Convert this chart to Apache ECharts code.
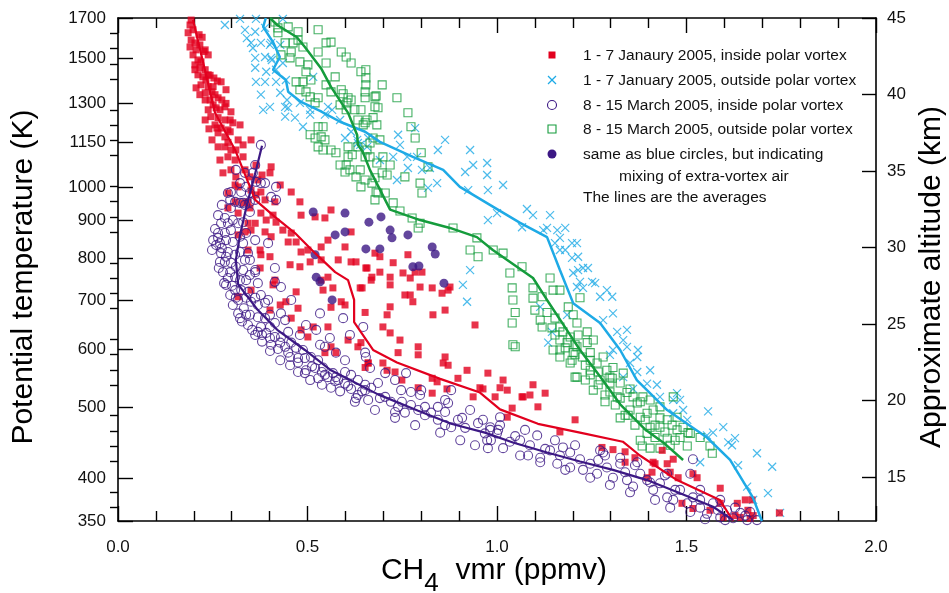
<!DOCTYPE html>
<html>
<head>
<meta charset="utf-8">
<script src="https://cdn.jsdelivr.net/npm/echarts@6/dist/echarts.min.js"></script>
<style>
html,body{margin:0;padding:0;background:#fff;}
#chart{width:949px;height:593px;}
</style>
</head>
<body>
<div id="chart"></div>
<script>
// ---------- data (CH4 vmr in ppmv, potential temperature in K) ----------
const thetaTicks = [350,400,500,600,700,800,900,1000,1150,1300,1500,1700];
const altTicks = [15,20,25,30,35,40,45];
const altMinorTicks = [13,14,16,17,18,19,21,22,23,24,26,27,28,29,31,32,33,34,36,37,38,39,41,42,43,44];
const xTickLabels = [0,0.5,1,1.5,2];

const janInside = [
[0.193,1689],[0.190,1663],[0.198,1638],[0.185,1623],[0.193,1586],[0.203,1572],[0.190,1552],[0.206,1538],[0.198,1514],[0.211,1490],
[0.219,1481],[0.203,1467],[0.216,1454],[0.230,1445],[0.211,1422],[0.224,1413],[0.232,1399],[0.219,1378],[0.238,1370],[0.251,1370],
[0.230,1344],[0.256,1336],[0.243,1314],[0.264,1323],[0.272,1391],[0.230,1314],[0.251,1294],[0.259,1282],[0.238,1274],[0.269,1274],
[0.282,1286],[0.245,1247],[0.264,1243],[0.282,1234],[0.256,1215],[0.272,1203],[0.298,1266],[0.303,1223],[0.264,1185],[0.282,1170],
[0.296,1189],[0.264,1134],[0.282,1134],[0.298,1123],[0.330,1141],[0.351,1159],[0.290,1099],[0.309,1088],[0.330,1099],[0.277,1045],
[0.298,1055],[0.311,1032],[0.348,1032],[0.369,1022],[0.404,1065],[0.401,1045],[0.317,1000],[0.351,990],[0.377,984],[0.428,1006],
[0.457,984],[0.290,981],[0.309,954],[0.343,954],[0.388,960],[0.414,954],[0.480,954],[0.364,975],[0.290,936],[0.330,951],
[0.317,921],[0.348,936],[0.362,892],[0.377,921],[0.391,901],[0.409,915],[0.417,895],[0.343,892],[0.317,860],[0.335,868],
[0.351,873],[0.388,868],[0.404,855],[0.435,873],[0.457,865],[0.449,841],[0.470,841],[0.483,915],[0.520,910],[0.546,907],
[0.562,930],[0.483,815],[0.501,820],[0.536,828],[0.554,846],[0.599,828],[0.615,868],[0.536,795],[0.581,795],[0.615,790],
[0.628,790],[0.654,775],[0.343,820],[0.375,820],[0.377,808],[0.401,803],[0.375,775],[0.414,746],[0.409,735],[0.454,783],
[0.480,778],[0.507,790],[0.554,753],[0.536,746],[0.470,719],[0.428,690],[0.443,697],[0.475,683],[0.541,723],[0.567,728],
[0.589,697],[0.599,690],[0.562,685],[0.639,728],[0.652,674],[0.668,746],[0.457,662],[0.401,679],[0.483,638],[0.501,624],
[0.515,644],[0.554,644],[0.562,605],[0.546,594],[0.575,594],[0.607,618],[0.633,605],[0.641,613],[0.652,567],[0.660,575],
[0.351,723],[0.317,708],[0.678,812],[0.691,803],[0.726,788],[0.765,808],[0.784,765],[0.802,765],[0.657,775],[0.670,753],
[0.691,765],[0.718,753],[0.718,735],[0.752,763],[0.771,751],[0.797,730],[0.829,728],[0.855,716],[0.871,723],[0.876,730],
[0.757,712],[0.771,712],[0.778,697],[0.644,728],[0.710,669],[0.718,686],[0.831,669],[0.863,679],[0.699,644],[0.718,632],
[0.942,648],[0.744,618],[0.792,605],[0.792,590],[0.739,594],[0.863,586],[0.660,575],[0.699,575],[0.710,562],[0.731,559],
[0.749,545],[0.858,575],[0.871,571],[0.829,548],[0.842,542],[0.897,548],[0.921,562],[0.955,532],[0.976,557],[1.008,532],
[1.016,545],[1.095,537],[0.792,532],[0.829,523],[0.868,530],[1.066,517],[0.995,517],[0.937,517],[1.027,528],[0.963,530],
[1.040,499],[1.027,485],[1.069,517],[1.087,520],[1.108,501],[1.127,523],[1.166,463],[1.206,481],[1.277,441],[1.306,438],
[1.338,435],[1.364,427],[1.338,421],[1.412,421],[1.417,419],[1.436,437],[1.449,419],[1.465,425],[1.457,408],[1.478,401],
[1.517,406],[1.528,401],[1.589,388],[1.488,370],[1.517,364],[1.655,374],[1.673,374],[1.662,362],[1.676,356],[1.668,353],
[1.634,370],[1.628,356],[1.642,354],[1.597,354],[1.562,362],[1.589,370],[1.396,401],[1.409,408],[1.745,359],
[0.216,1562],[0.238,1514],[0.206,1365],[0.248,1348],[0.274,1314],[0.230,1234],[0.296,1234],[0.248,1159],[0.317,1159],[0.269,1088],
[0.335,1055],[0.309,1006],[0.380,1038],[0.222,1600],[0.227,1530],[0.243,1420],[0.262,1395],[0.285,1300],[0.240,1200],[0.290,1150],
[0.214,1613],[0.230,1538],[0.203,1445],[0.238,1422],[0.253,1408],[0.216,1336],[0.285,1357],[0.290,1196],[0.261,1203],[0.322,1215],
[0.311,1123],[0.364,1071]
];

const janOutside = [
[0.282,1663],[0.322,1695],[0.364,1695],[0.435,1695],[0.335,1638],[0.362,1628],[0.388,1648],[0.351,1572],[0.377,1572],[0.404,1572],
[0.362,1500],[0.388,1504],[0.404,1500],[0.362,1454],[0.391,1436],[0.417,1445],[0.364,1391],[0.388,1391],[0.417,1391],[0.443,1399],
[0.377,1336],[0.401,1286],[0.383,1274],[0.441,1286],[0.441,1247],[0.467,1243],[0.488,1208],[0.507,1255],[0.546,1255],[0.554,1286],
[0.599,1166],[0.633,1148],[0.615,1189],[0.340,1596],[0.356,1547],[0.401,1562],[0.428,1562],[0.406,1490],[0.435,1476],[0.449,1282],
[0.446,1314],[0.428,1344],[0.480,1302],[0.507,1274],[0.515,1413],[0.565,1274],[0.586,1234],[0.631,1159],[0.639,1141],[0.660,1166],
[0.739,1178],[0.744,1141],[0.726,1099],[0.763,1099],[0.789,1099],[0.784,1203],[0.863,1159],[0.844,1123],[0.929,1123],[0.937,1071],
[0.974,1078],[0.916,1048],[0.974,1038],[0.823,1061],[0.802,1055],[0.765,1061],[0.691,1088],[0.657,1134],[0.736,1022],[0.842,1012],
[0.818,997],[0.924,990],[0.976,990],[1.016,1006],[1.000,921],[0.976,901],[1.079,933],[1.095,915],[1.066,881],[1.140,915],
[1.132,879],[1.159,873],[1.180,879],[1.122,873],[1.166,852],[1.153,838],[1.166,820],[1.180,820],[1.198,838],[1.211,838],
[1.214,803],[1.198,800],[1.201,763],[1.214,770],[1.227,775],[1.240,775],[1.219,742],[1.251,742],[1.259,739],[1.211,730],
[1.227,728],[1.272,708],[1.290,723],[1.304,708],[1.306,672],[1.280,658],[1.317,634],[1.343,638],[1.333,618],[1.306,599],
[1.343,605],[1.370,586],[0.929,770],[0.910,735],[0.921,697],[1.135,613],[1.145,634],[1.114,686],[1.185,669],[1.372,599],
[1.298,590],[1.351,575],[1.370,559],[1.404,562],[1.333,550],[1.359,530],[1.396,539],[1.422,537],[1.430,517],[1.475,523],
[1.483,512],[1.465,512],[1.491,496],[1.465,491],[1.502,481],[1.557,494],[1.570,462],[1.554,458],[1.597,470],[1.610,448],
[1.628,454],[1.620,444],[1.686,433],[1.536,421],[1.636,417],[1.726,415],[1.660,390],[1.715,382],[1.676,374],[1.747,359]
];

const marInside = [
[0.377,1141],[0.362,1071],[0.311,1055],[0.335,1045],[0.356,1045],[0.364,1016],[0.377,1012],[0.388,1012],[0.322,1012],[0.338,1000],
[0.417,1000],[0.298,984],[0.325,984],[0.348,981],[0.404,969],[0.417,960],[0.296,960],[0.309,954],[0.330,951],[0.348,954],
[0.362,960],[0.290,981],[0.322,951],[0.335,945],[0.298,936],[0.348,924],[0.282,907],[0.272,892],[0.290,892],[0.303,901],
[0.317,892],[0.330,895],[0.264,865],[0.282,865],[0.298,873],[0.269,838],[0.259,833],[0.285,846],[0.303,841],[0.322,855],
[0.330,838],[0.338,865],[0.362,846],[0.272,812],[0.290,815],[0.309,808],[0.322,815],[0.343,812],[0.348,795],[0.282,790],
[0.298,788],[0.311,778],[0.330,770],[0.362,770],[0.290,751],[0.309,753],[0.322,746],[0.338,746],[0.369,739],[0.309,723],
[0.325,723],[0.343,719],[0.311,706],[0.338,706],[0.362,706],[0.377,712],[0.351,697],[0.369,690],[0.388,695],[0.317,672],
[0.338,669],[0.369,664],[0.388,662],[0.401,669],[0.430,672],[0.377,644],[0.401,644],[0.414,652],[0.369,634],[0.391,632],
[0.414,624],[0.430,624],[0.449,634],[0.404,609],[0.428,613],[0.441,605],[0.457,613],[0.470,603],[0.488,599],[0.454,586],
[0.475,584],[0.493,584],[0.509,586],[0.528,580],[0.475,559],[0.496,562],[0.520,566],[0.541,567],[0.528,548],[0.554,550],
[0.575,550],[0.599,559],[0.615,554],[0.633,545],[0.652,537],[0.562,532],[0.396,838],[0.414,775],[0.430,730],[0.457,701],
[0.533,672],[0.496,648],[0.523,638],[0.559,622],[0.546,605],[0.575,594],[0.594,662],[0.612,628],[0.647,644],[0.652,594],
[0.654,586],[0.414,742],[0.362,765],[0.493,557],[0.546,554],[0.567,557],[0.581,545],[0.599,539],[0.615,530],[0.633,520],
[0.652,528],[0.668,532],[0.628,515],[0.660,512],[0.705,517],[0.720,509],[0.739,501],[0.731,493],[0.757,492],[0.773,504],
[0.792,496],[0.810,501],[0.826,492],[0.844,501],[0.863,493],[0.844,481],[0.863,473],[0.879,470],[0.897,481],[0.916,469],
[0.871,507],[0.950,476],[0.968,461],[0.976,440],[0.984,451],[1.003,466],[0.747,528],[0.773,525],[0.800,528],[0.879,528],
[0.686,540],[0.705,557],[0.760,557],[0.963,481],[0.982,470],[1.000,461],[1.016,440],[0.974,451],[1.008,485],[1.034,449],
[1.061,451],[1.087,444],[1.106,458],[1.082,430],[1.114,427],[1.140,437],[1.166,430],[1.174,441],[1.159,419],[1.193,414],
[1.219,425],[1.227,411],[1.246,419],[1.264,406],[1.272,437],[1.290,414],[1.306,401],[1.325,419],[1.343,398],[1.359,390],
[1.378,406],[1.396,398],[1.412,386],[1.430,394],[1.449,377],[1.465,374],[1.483,386],[1.502,370],[1.517,377],[1.536,365],
[1.554,358],[1.570,370],[1.589,354],[1.607,362],[1.623,353],[1.642,359],[1.660,351],[1.686,351],[1.517,425],[1.510,406],
[1.449,406],[1.370,421],[1.325,427],[1.280,434],
[0.251,846],[0.248,820],[0.256,876],[0.264,915],[0.274,945],[0.269,790],[0.277,765],[0.285,735],[0.296,712],[0.303,690],
[0.322,662],[0.343,648],[0.362,628],[0.380,615],[0.401,597],[0.428,580],[0.454,571],[0.507,545],[0.538,537],[0.586,526],
[0.625,509],[0.678,496],[0.731,484],[0.784,473],[0.850,462],[0.903,451],[0.942,444],[1.061,430],[1.114,421],[1.180,411],
[1.246,401],[1.298,392],[1.351,383],[1.417,374],[1.457,365],[1.510,360],[1.549,352],[1.602,351],
[0.335,795],[0.348,758],[0.396,701],[0.441,658],[0.480,628],[0.533,609],[0.599,580],[0.665,566],[0.731,545],[0.797,520],
[0.863,512],[0.929,496],[1.008,473],[1.074,466],[1.153,451],[1.206,444],[1.285,430],[1.364,417],[1.443,404],[1.536,386],
[1.589,374],[1.628,365],[1.668,360],
[0.264,852],[0.274,825],[0.285,803],[0.266,775],[0.296,765],[0.280,739],[0.301,733],[0.317,701],[0.332,683],[0.348,669],
[0.327,655],[0.354,638],[0.380,628],[0.401,622],[0.422,601],[0.449,594],[0.475,576],[0.512,569],[0.538,559],[0.573,543],
[0.607,535],[0.644,526],[0.691,515],[0.749,509],[0.810,488],[0.908,484],[0.982,466],[1.048,457],[1.127,439],[1.193,434],
[1.267,424],[1.338,408],[1.404,395],[1.470,386],[1.536,374],[1.583,362],[1.655,356]
];

const marOutside = [
[0.414,1679],[0.422,1648],[0.449,1653],[0.475,1628],[0.528,1638],[0.422,1623],[0.441,1572],[0.462,1572],[0.475,1586],[0.488,1552],
[0.430,1514],[0.457,1528],[0.454,1500],[0.480,1481],[0.501,1467],[0.528,1528],[0.549,1572],[0.562,1576],[0.589,1528],[0.602,1504],
[0.615,1476],[0.641,1436],[0.654,1445],[0.549,1476],[0.496,1436],[0.470,1391],[0.488,1391],[0.509,1399],[0.480,1357],[0.496,1348],
[0.507,1327],[0.528,1323],[0.520,1302],[0.573,1413],[0.549,1378],[0.562,1348],[0.589,1357],[0.607,1323],[0.615,1314],[0.586,1294],
[0.602,1274],[0.625,1274],[0.641,1274],[0.633,1234],[0.652,1223],[0.507,1178],[0.520,1166],[0.536,1170],[0.546,1159],[0.528,1208],
[0.541,1208],[0.528,1134],[0.562,1123],[0.575,1113],[0.586,1071],[0.602,1071],[0.599,1048],[0.607,1099],[0.607,1134],[0.633,1134],
[0.639,1055],[0.652,1022],[0.628,1032],[0.641,1000],[0.678,1029],[0.681,984],[0.678,960],[0.652,1099],[0.652,1348],[0.654,1408],
[0.654,1378],[0.652,1323],[0.678,1327],[0.678,1286],[0.594,1340],[0.604,1302],[0.647,1215],[0.657,1234],[0.673,1243],[0.683,1215],
[0.697,1378],[0.681,1331],[0.686,1282],[0.736,1323],[0.765,1262],[0.773,1208],[0.784,1166],[0.800,1113],[0.818,1065],[0.673,1166],
[0.665,1148],[0.691,1159],[0.699,1099],[0.683,1078],[0.718,1071],[0.697,1045],[0.710,1038],[0.757,1032],[0.657,1123],[0.612,1055],
[0.541,1123],[0.618,1106],[0.665,1099],[0.670,1012],[0.686,981],[0.705,981],[0.726,951],[0.744,927],[0.797,1012],[0.802,981],
[0.776,907],[0.797,892],[0.792,879],[0.884,879],[0.947,852],[0.929,820],[0.950,803],[0.990,820],[1.016,812],[1.066,778],
[1.034,763],[1.040,728],[1.042,701],[1.048,674],[1.040,652],[1.048,605],[1.095,728],[1.095,705],[1.100,679],[1.119,708],
[1.140,751],[1.148,723],[1.166,723],[1.114,658],[1.132,674],[1.153,662],[1.119,644],[1.145,642],[1.166,644],[1.188,686],
[1.219,706],[1.201,669],[1.211,652],[1.153,628],[1.174,634],[1.148,599],[1.166,586],[1.193,624],[1.214,628],[1.238,634],
[1.185,613],[1.211,605],[1.238,613],[1.254,618],[1.198,580],[1.225,586],[1.246,594],[1.264,575],[1.206,550],[1.246,562],
[1.272,545],[1.298,550],[1.306,567],[1.325,540],[1.343,524],[1.359,517],[1.254,528],[1.042,609],[1.166,599],[1.201,594],
[1.193,575],[1.211,550],[1.280,586],[1.290,562],[1.298,540],[1.317,517],[1.333,557],[1.351,496],[1.370,507],[1.385,517],
[1.346,488],[1.378,485],[1.396,491],[1.412,496],[1.430,501],[1.404,470],[1.430,470],[1.449,481],[1.417,455],[1.449,454],
[1.475,466],[1.491,470],[1.483,455],[1.510,461],[1.536,455],[1.465,517],[1.475,485],[1.502,443],[1.562,443],[1.568,433],
[1.430,440],[1.457,444],[1.383,443],[1.396,461],
[1.285,520],[1.312,504],[1.338,488],[1.364,473],[1.391,481],[1.417,473],[1.443,463],[1.470,451],[1.378,451],[1.404,440],
[1.246,554],[1.267,537],[1.233,571],[1.206,590],[1.180,603],[1.298,525],[1.325,515],
[1.267,559],[1.304,548],[1.233,545],[1.351,530],[1.285,509],[1.378,509],[1.325,484],[1.404,512],[1.430,484],[1.462,473],
[1.504,462],[1.206,609],[1.246,580],[1.166,618]
];

const marMixing = [
[0.515,924],[0.599,921],[0.662,895],[0.694,910],[0.718,873],[0.723,852],[0.765,860],[0.573,860],[0.599,868],[0.654,823],
[0.691,823],[0.520,808],[0.523,753],[0.533,742],[0.565,701],[0.778,778],[0.794,780],[0.829,828],[0.837,810],[0.860,739]
];

const janInsideAvg = [
[0.198,1690],[0.256,1262],[0.309,1123],[0.362,960],[0.414,910],[0.467,865],[0.520,812],[0.573,765],[0.607,746],[0.623,701],
[0.623,654],[0.673,599],[0.736,576],[0.850,547],[0.955,524],[1.008,497],[1.108,475],[1.219,462],[1.332,449],[1.377,430],
[1.475,398],[1.588,374],[1.623,350]
];
const marInsideAvg = [
[0.380,1138],[0.361,1038],[0.340,945],[0.322,860],[0.311,795],[0.317,736],[0.369,679],[0.422,637],[0.493,599],[0.562,562],
[0.686,521],[0.792,495],[0.879,475],[0.968,462],[1.042,448],[1.132,434],[1.219,422],[1.306,411],[1.396,398],[1.483,382],
[1.570,366],[1.623,351]
];
const janOutsideAvg = [
[0.390,1700],[0.383,1653],[0.409,1576],[0.427,1504],[0.409,1445],[0.443,1399],[0.449,1348],[0.483,1306],[0.533,1270],[0.586,1227],
[0.652,1189],[0.691,1152],[0.778,1099],[0.858,1055],[0.902,1000],[0.989,940],[1.061,893],[1.132,854],[1.166,770],[1.201,694],
[1.272,652],[1.325,599],[1.369,545],[1.449,496],[1.554,455],[1.615,424],[1.675,377],[1.699,350]
];
const marOutsideAvg = [
[0.401,1700],[0.420,1663],[0.472,1600],[0.493,1552],[0.536,1451],[0.562,1369],[0.607,1262],[0.631,1177],[0.633,1141],[0.646,1116],
[0.665,1054],[0.718,931],[0.797,901],[0.876,879],[0.947,854],[0.989,820],[1.095,751],[1.132,701],[1.185,637],[1.219,599],
[1.272,551],[1.325,505],[1.390,467],[1.443,446],[1.491,424]
];

const legendLabels = [
  '1 - 7 Janaury 2005, inside polar vortex',
  '1 - 7 January 2005, outside polar vortex',
  '8 - 15 March 2005, inside polar vortex',
  '8 - 15 March 2005, outside polar vortex',
  'same as blue circles, but indicating',
  'mixing of extra-vortex air',
  'The lines are the averages'
];

// ---------- styling ----------
const C_RED = '#e2001e', C_CYAN = '#1eaae6', C_PURPLE = '#3c1884', C_GREEN = '#159c3c';
const FONT = '"Liberation Sans", Arial, Helvetica, sans-serif';
const L = v => Math.log10(v);
const tr = arr => arr.map(p => [p[0], L(p[1])]);

const chart = echarts.init(document.getElementById('chart'), null, {renderer: 'canvas'});

const axisLineStyle = {color: '#000', width: 1.6};
const xCommon = {
  type: 'value', min: 0, max: 2, interval: 0.5,
  splitLine: {show: false},
  axisLine: {show: true, onZero: false, lineStyle: axisLineStyle},
  axisTick: {show: true, inside: true, length: 15, lineStyle: {color: '#000', width: 1.4}},
  minorTick: {show: true, splitNumber: 5, length: 10, lineStyle: {color: '#000', width: 1.4}},
};

const option = {
  animation: false,
  backgroundColor: '#fff',
  grid: {left: 118, right: 73, top: 18, bottom: 72, containLabel: false},
  xAxis: [
    Object.assign({}, xCommon, {
      position: 'bottom',
      axisLabel: {
        customValues: xTickLabels, formatter: v => v.toFixed(1),
        fontSize: 17, color: '#111', fontFamily: FONT, margin: 18
      }
    }),
    Object.assign({}, xCommon, {position: 'top', axisLabel: {show: false}})
  ],
  yAxis: [
    {
      type: 'value', position: 'left', min: L(350), max: L(1700),
      splitLine: {show: false},
      axisLine: {show: true, onZero: false, lineStyle: axisLineStyle},
      axisTick: {show: true, inside: true, length: 15, customValues: thetaTicks.map(L), lineStyle: {color: '#000', width: 1.4}},
      axisLabel: {
        customValues: thetaTicks.map(L),
        formatter: v => String(Math.round(Math.pow(10, v))),
        fontSize: 17, color: '#111', fontFamily: FONT, margin: 12
      }
    },
    {
      type: 'value', position: 'right', min: 12.12, max: 45,
      splitLine: {show: false},
      axisLine: {show: true, onZero: false, lineStyle: axisLineStyle},
      axisTick: {show: true, inside: true, length: 14, customValues: altTicks, lineStyle: {color: '#000', width: 1.4}},
      axisLabel: {customValues: altTicks, fontSize: 17, color: '#111', fontFamily: FONT, margin: 11}
    },
    {
      type: 'value', position: 'right', min: 12.12, max: 45,
      splitLine: {show: false},
      axisLine: {show: false},
      axisTick: {show: true, inside: true, length: 8, customValues: altMinorTicks, lineStyle: {color: '#000', width: 1.4}},
      axisLabel: {show: false}
    }
  ],
  series: [
    {type: 'scatter', name: 'janOutside', data: tr(janOutside), symbol: 'path://M0,0L10,10M10,0L0,10', symbolSize: 8,
     itemStyle: {color: 'rgba(0,0,0,0)', borderColor: C_CYAN, borderWidth: 1.2}},
    {type: 'scatter', name: 'marOutside', data: tr(marOutside), symbol: 'rect', symbolSize: 8,
     itemStyle: {color: 'rgba(0,0,0,0)', borderColor: C_GREEN, borderWidth: 1.1}},
    {type: 'scatter', name: 'janInside', data: tr(janInside), symbol: 'rect', symbolSize: 7,
     itemStyle: {color: C_RED}},
    {type: 'scatter', name: 'marInside', data: tr(marInside), symbol: 'circle', symbolSize: 9,
     itemStyle: {color: 'rgba(0,0,0,0)', borderColor: C_PURPLE, borderWidth: 1.1}},
    {type: 'scatter', name: 'marMixing', data: tr(marMixing), symbol: 'circle', symbolSize: 9,
     itemStyle: {color: C_PURPLE}},
    {type: 'line', data: tr(janOutsideAvg), showSymbol: false, symbol: 'none', lineStyle: {color: C_CYAN, width: 2.5}},
    {type: 'line', data: tr(marOutsideAvg), showSymbol: false, symbol: 'none', lineStyle: {color: C_GREEN, width: 2.5}},
    {type: 'line', data: tr(janInsideAvg), showSymbol: false, symbol: 'none', lineStyle: {color: C_RED, width: 2.2}},
    {type: 'line', data: tr(marInsideAvg), showSymbol: false, symbol: 'none', lineStyle: {color: C_PURPLE, width: 2.2}}
  ],
  graphic: [
    // axis titles
    {type: 'text', x: 24, y: 277, rotation: Math.PI / 2,
     style: {text: 'Potential temperature (K)', font: '30px ' + FONT, fill: '#000', textAlign: 'center', textVerticalAlign: 'middle'}},
    {type: 'text', x: 932, y: 277, rotation: Math.PI / 2,
     style: {text: 'Approximate altitude (km)', font: '30px ' + FONT, fill: '#000', textAlign: 'center', textVerticalAlign: 'middle'}},
    {type: 'text', x: 494, y: 556,
     style: {text: '{a|CH}{s|4}{a|  vmr (ppmv)}', textAlign: 'center', textVerticalAlign: 'top', fill: '#000',
       rich: {
         a: {fontSize: 30, fontFamily: FONT, color: '#000', verticalAlign: 'top', lineHeight: 32},
         s: {fontSize: 26, fontFamily: FONT, color: '#000', verticalAlign: 'top', lineHeight: 28, padding: [15, 0, 0, 0]}
       }}},
    // legend markers
    {type: 'rect', shape: {x: 548.5, y: 51.5, width: 7, height: 7}, style: {fill: C_RED}},
    {type: 'line', shape: {x1: 548, y1: 76, x2: 556, y2: 84}, style: {stroke: C_CYAN, lineWidth: 1.2}},
    {type: 'line', shape: {x1: 556, y1: 76, x2: 548, y2: 84}, style: {stroke: C_CYAN, lineWidth: 1.2}},
    {type: 'circle', shape: {cx: 552, cy: 105, r: 4.5}, style: {fill: 'none', stroke: C_PURPLE, lineWidth: 1.1}},
    {type: 'rect', shape: {x: 548, y: 125, width: 8, height: 8}, style: {fill: 'none', stroke: C_GREEN, lineWidth: 1.1}},
    {type: 'circle', shape: {cx: 552, cy: 154, r: 4.5}, style: {fill: C_PURPLE}},
    // legend texts
    {type: 'text', x: 583, y: 56, style: {text: legendLabels[0], font: '15.5px ' + FONT, fill: '#111', textVerticalAlign: 'middle'}},
    {type: 'text', x: 583, y: 81, style: {text: legendLabels[1], font: '15.5px ' + FONT, fill: '#111', textVerticalAlign: 'middle'}},
    {type: 'text', x: 583, y: 106, style: {text: legendLabels[2], font: '15.5px ' + FONT, fill: '#111', textVerticalAlign: 'middle'}},
    {type: 'text', x: 583, y: 130, style: {text: legendLabels[3], font: '15.5px ' + FONT, fill: '#111', textVerticalAlign: 'middle'}},
    {type: 'text', x: 583, y: 155, style: {text: legendLabels[4], font: '15.5px ' + FONT, fill: '#111', textVerticalAlign: 'middle'}},
    {type: 'text', x: 619, y: 177, style: {text: legendLabels[5], font: '15.5px ' + FONT, fill: '#111', textVerticalAlign: 'middle'}},
    {type: 'text', x: 583, y: 198, style: {text: legendLabels[6], font: '15.5px ' + FONT, fill: '#111', textVerticalAlign: 'middle'}}
  ]
};
chart.setOption(option);
</script>
</body>
</html>
